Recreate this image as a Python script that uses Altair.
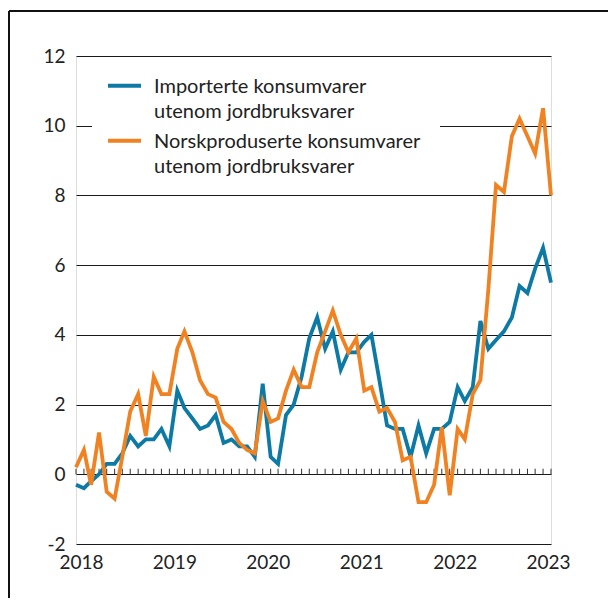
import altair as alt
import pandas as pd

# Monthly dates, Jan 2018 - Feb 2023
months = pd.date_range("2018-01-01", "2023-02-01", freq="MS").strftime("%Y-%m-%d").tolist()

series_names = [
    "Importerte konsumvarer utenom jordbruksvarer",
    "Norskproduserte konsumvarer utenom jordbruksvarer",
]
legend_lines = [
    ["Importerte konsumvarer", "utenom jordbruksvarer"],
    ["Norskproduserte konsumvarer", "utenom jordbruksvarer"],
]

imported = [
    -0.3, -0.4, -0.2, 0.0, 0.3, 0.3, 0.6, 1.1, 0.8, 1.0, 1.0, 1.3,
    0.8, 2.4, 1.9, 1.6, 1.3, 1.4, 1.7, 0.9, 1.0, 0.8, 0.8, 0.5,
    2.6, 0.5, 0.3, 1.7, 2.0, 2.8, 3.9, 4.5, 3.6, 4.1, 3.0, 3.5,
    3.5, 3.8, 4.0, 2.7, 1.4, 1.3, 1.3, 0.5, 1.4, 0.6, 1.3, 1.3,
    1.5, 2.5, 2.1, 2.5, 4.4, 3.6, 3.85, 4.1, 4.5, 5.4, 5.2, 5.9,
    6.5, 5.5,
]
domestic = [
    0.2, 0.7, -0.3, 1.2, -0.5, -0.7, 0.5, 1.8, 2.3, 1.1, 2.8, 2.3,
    2.3, 3.6, 4.1, 3.5, 2.7, 2.3, 2.2, 1.5, 1.3, 0.9, 0.7, 0.6,
    2.1, 1.5, 1.6, 2.4, 3.0, 2.5, 2.5, 3.5, 4.1, 4.7, 4.0, 3.5,
    3.9, 2.4, 2.5, 1.8, 1.9, 1.5, 0.4, 0.5, -0.8, -0.8, -0.3, 1.35,
    -0.6, 1.3, 1.0, 2.3, 2.7, 5.3, 8.3, 8.1, 9.7, 10.2, 9.7, 9.2,
    10.5, 8.0,
]
colors = ["#0c7aa5", "#f08221"]
year_ticks = [2018, 2019, 2020, 2021, 2022, 2023]
y_ticks = [-2, 0, 2, 4, 6, 8, 10, 12]

FONT = "Lato"
TXT = "#222222"

df = pd.DataFrame({
    "date": months * 2,
    "value": imported + domestic,
    "serie": [series_names[0]] * len(months) + [series_names[1]] * len(months),
})

xscale = alt.Scale(
    type="utc",
    domain=[alt.DateTime(year=2018, month=1, date=1, utc=True),
            alt.DateTime(year=2023, month=2, date=1, utc=True)],
    nice=False,
)
yscale = alt.Scale(domain=[-2, 12], nice=False)

x_axis = alt.Axis(
    values=[alt.DateTime(year=y, month=1, date=1, utc=True) for y in year_ticks],
    format="%Y", formatType="utc", grid=False, domain=False, ticks=False,
    labelPadding=9, labelFlush=False, labelOverlap=False, labelOffset=5,
    labelFont=FONT, labelFontSize=19, labelColor=TXT, title=None,
)
y_axis = alt.Axis(
    values=y_ticks, grid=True, gridColor="#1a1a1a", gridWidth=1,
    domain=False, ticks=False, labelPadding=11, labelExpr="'' + datum.value",
    labelFont=FONT, labelFontSize=19, labelColor=TXT, title=None,
)

lines = alt.Chart(df).mark_line(strokeWidth=3.8).encode(
    x=alt.X("date:T", scale=xscale, axis=x_axis),
    y=alt.Y("value:Q", scale=yscale, axis=y_axis),
    color=alt.Color("serie:N", scale=alt.Scale(domain=series_names, range=colors), legend=None),
)

zero_ticks = alt.Chart(pd.DataFrame({"date": months})).mark_rule(
    color="#333333", strokeWidth=1
).encode(
    x=alt.X("date:T", scale=xscale),
    y=alt.datum(0),
    y2=alt.datum(0.16),
)

# legend (white box hides the gridline behind it)
legend_box = alt.Chart().mark_rect(fill="white").encode(
    x=alt.value(16), x2=alt.value(364), y=alt.value(2), y2=alt.value(130)
)
legend_layers = [legend_box]
entry_y = [29.7, 84.7]
for k in range(2):
    legend_layers.append(
        alt.Chart().mark_rule(color=colors[k], strokeWidth=4).encode(
            x=alt.value(32), x2=alt.value(65), y=alt.value(entry_y[k])
        )
    )
    legend_layers.append(
        alt.Chart().mark_text(
            text=legend_lines[k], align="left", baseline="alphabetic",
            lineHeight=25.5, font=FONT, fontSize=20, color=TXT,
        ).encode(x=alt.value(78), y=alt.value(entry_y[k] + 6.8))
    )

# outer frame of the figure (top and left edges visible)
frame_top = alt.Chart().mark_rule(color="#111111", strokeWidth=2).encode(
    x=alt.value(-67), x2=alt.value(532), y=alt.value(-45)
)
frame_left = alt.Chart().mark_rule(color="#111111", strokeWidth=2).encode(
    x=alt.value(-67), y=alt.value(-45), y2=alt.value(544)
)

chart = alt.layer(
    zero_ticks, lines, *legend_layers, frame_top, frame_left
).properties(
    width=475, height=488,
    autosize=alt.AutoSizeParams(type="none"),
    padding={"left": 68, "top": 48, "right": 57, "bottom": 54},
).configure_view(
    stroke="#111111", strokeWidth=2
).configure(background="white")

chart.save("out.html", embed_options={"renderer": "svg", "actions": False})
